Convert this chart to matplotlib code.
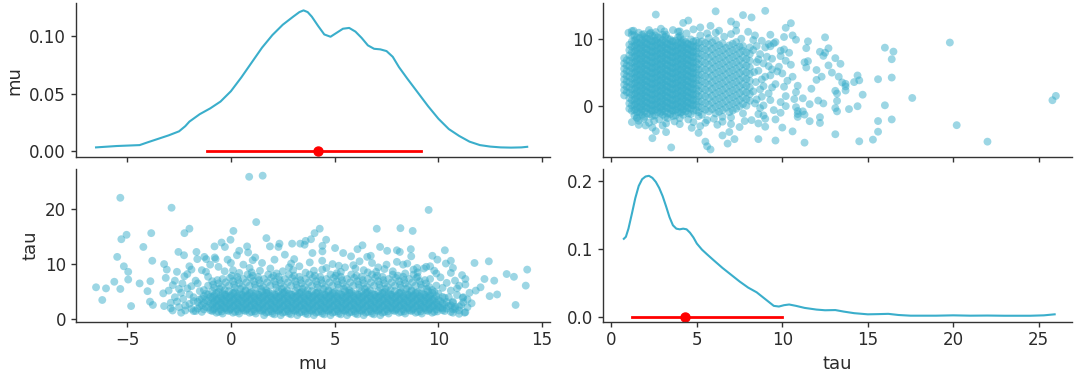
import matplotlib
matplotlib.use("Agg")
import matplotlib.pyplot as plt


line_color = "#3aaecb"
text_color = "#2b2b2b"

# marginal densities
mu_kde_x = [-6.5, -5.5, -4.4, -4.0, -3.5, -3.0, -2.5, -2.2, -2.0, -1.5, -1.0, -0.5, 0.0,
            0.5, 1.0, 1.5, 2.0, 2.5, 3.0, 3.3, 3.5, 3.7, 3.9, 4.2, 4.5, 4.8, 5.1, 5.4,
            5.7, 6.0, 6.3, 6.6, 6.9, 7.2, 7.5, 7.8, 8.1, 8.5, 9.0, 9.5, 10.0, 10.5,
            11.0, 11.5, 12.0, 12.5, 13.0, 13.5, 14.0, 14.28]
mu_kde_y = [0.003, 0.0042, 0.005, 0.0075, 0.0105, 0.0135, 0.017, 0.0215, 0.0255, 0.032,
            0.037, 0.043, 0.052, 0.064, 0.077, 0.090, 0.101, 0.110, 0.117, 0.121, 0.1225,
            0.121, 0.117, 0.109, 0.1015, 0.0995, 0.103, 0.1065, 0.1072, 0.104, 0.0985,
            0.092, 0.089, 0.0885, 0.087, 0.082, 0.073, 0.063, 0.051, 0.039, 0.028, 0.019,
            0.013, 0.008, 0.005, 0.0037, 0.003, 0.0028, 0.003, 0.0035]

tau_kde_x = [0.73, 0.85, 1.0, 1.2, 1.4, 1.6, 1.8, 2.0, 2.2, 2.4, 2.6, 2.8, 3.0, 3.2, 3.4,
             3.6, 3.8, 4.0, 4.2, 4.4, 4.6, 4.8, 5.0, 5.3, 5.6, 6.0, 6.5, 7.0, 7.5, 8.0,
             8.5, 8.8, 9.2, 9.5, 9.8, 10.1, 10.4, 10.8, 11.3, 12.0, 12.5, 13.1, 13.6,
             14.2, 15.0, 15.6, 16.2, 16.8, 17.5, 19.0, 20.0, 21.0, 22.0, 23.0, 24.5,
             25.3, 25.93]
tau_kde_y = [0.115, 0.118, 0.13, 0.152, 0.175, 0.193, 0.203, 0.207, 0.208, 0.205, 0.199,
             0.19, 0.178, 0.163, 0.147, 0.135, 0.13, 0.129, 0.13, 0.129, 0.124, 0.117,
             0.108, 0.099, 0.092, 0.083, 0.072, 0.062, 0.052, 0.043, 0.036, 0.030, 0.022,
             0.016, 0.015, 0.017, 0.018, 0.016, 0.013, 0.0105, 0.0095, 0.0098, 0.0075,
             0.0052, 0.0035, 0.0038, 0.0042, 0.0025, 0.0015, 0.0015, 0.002, 0.0015,
             0.0017, 0.0014, 0.0014, 0.002, 0.0035]

mu_hdi = [-1.17, 9.15]
mu_point = 4.2
tau_hdi = [1.23, 9.97]
tau_point = 4.32

# dense core of the draws: one tau level per row, mu values along it
core_tau = [0.75, 0.9, 1.05, 1.2, 1.35, 1.5, 1.65, 1.8, 1.95, 2.1, 2.25, 2.4, 2.55, 2.7,
            2.85, 3.0, 3.15, 3.3, 3.45, 3.6, 3.75, 3.9, 4.05, 4.2, 4.35, 4.5, 4.65, 4.8,
            4.95, 5.1, 5.3, 5.5, 5.7, 5.9, 6.1, 6.3, 6.5, 6.7, 6.9, 7.1, 7.3, 7.5, 7.7,
            7.9, 8.1,
            1.43, 1.73, 2.03, 2.33, 2.63, 2.93, 3.23, 3.53, 3.83, 4.13, 4.43, 4.73]
core_mu = [
    [1.6, 2.4, 3.2, 4.0, 4.8, 5.6, 6.4, 7.2],
    [2.1, 2.9, 3.7, 4.5, 5.3, 6.1, 6.9],
    [-0.4, 0.4, 1.2, 2.0, 2.8, 3.6, 4.4, 5.2, 6.0, 6.8, 7.6, 8.4, 9.2],
    [-0.7, 0.1, 0.9, 1.7, 2.5, 3.3, 4.1, 4.9, 5.7, 6.5, 7.3, 8.1, 8.9, 9.7],
    [-1.4, -0.6, 0.2, 1.0, 1.8, 2.6, 3.4, 4.2, 5.0, 5.8, 6.6, 7.4, 8.2, 9.0, 9.8, 10.6],
    [-1.7, -0.9, -0.1, 0.7, 1.5, 2.3, 3.1, 3.9, 4.7, 5.5, 6.3, 7.1, 7.9, 8.7, 9.5, 10.3],
    [-1.0, -0.2, 0.6, 1.4, 2.2, 3.0, 3.8, 4.6, 5.4, 6.2, 7.0, 7.8, 8.6, 9.4, 10.2],
    [-1.3, -0.5, 0.3, 1.1, 1.9, 2.7, 3.5, 4.3, 5.1, 5.9, 6.7, 7.5, 8.3, 9.1, 9.9, 10.7],
    [-1.6, -0.8, 0.0, 0.8, 1.6, 2.4, 3.2, 4.0, 4.8, 5.6, 6.4, 7.2, 8.0, 8.8, 9.6, 10.4],
    [-1.1, -0.3, 0.5, 1.3, 2.1, 2.9, 3.7, 4.5, 5.3, 6.1, 6.9, 7.7, 8.5, 9.3, 10.1],
    [-1.2, -0.4, 0.4, 1.2, 2.0, 2.8, 3.6, 4.4, 5.2, 6.0, 6.8, 7.6, 8.4, 9.2, 10.0, 10.8],
    [-1.5, -0.7, 0.1, 0.9, 1.7, 2.5, 3.3, 4.1, 4.9, 5.7, 6.5, 7.3, 8.1, 8.9, 9.7, 10.5],
    [-1.4, -0.6, 0.2, 1.0, 1.8, 2.6, 3.4, 4.2, 5.0, 5.8, 6.6, 7.4, 8.2, 9.0, 9.8, 10.6],
    [-0.9, -0.1, 0.7, 1.5, 2.3, 3.1, 3.9, 4.7, 5.5, 6.3, 7.1, 7.9, 8.7, 9.5, 10.3],
    [-1.0, -0.2, 0.6, 1.4, 2.2, 3.0, 3.8, 4.6, 5.4, 6.2, 7.0, 7.8, 8.6, 9.4, 10.2],
    [-1.3, -0.5, 0.3, 1.1, 1.9, 2.7, 3.5, 4.3, 5.1, 5.9, 6.7, 7.5, 8.3, 9.1, 9.9, 10.7],
    [-1.6, -0.8, 0.0, 0.8, 1.6, 2.4, 3.2, 4.0, 4.8, 5.6, 6.4, 7.2, 8.0, 8.8, 9.6, 10.4],
    [-1.1, -0.3, 0.5, 1.3, 2.1, 2.9, 3.7, 4.5, 5.3, 6.1, 6.9, 7.7, 8.5, 9.3, 10.1],
    [-1.2, -0.4, 0.4, 1.2, 2.0, 2.8, 3.6, 4.4, 5.2, 6.0, 6.8, 7.6, 8.4, 9.2, 10.0],
    [-1.5, -0.7, 0.1, 0.9, 1.7, 2.5, 3.3, 4.1, 4.9, 5.7, 6.5, 7.3, 8.1, 8.9, 9.7],
    [-1.4, -0.6, 0.2, 1.0, 1.8, 2.6, 3.4, 4.2, 5.0, 5.8, 6.6, 7.4, 8.2, 9.0, 9.8],
    [-0.9, -0.1, 0.7, 1.5, 2.3, 3.1, 3.9, 4.7, 5.5, 6.3, 7.1, 7.9, 8.7, 9.5, 10.3],
    [-1.0, -0.2, 0.6, 1.4, 2.2, 3.0, 3.8, 4.6, 5.4, 6.2, 7.0, 7.8, 8.6, 9.4, 10.2],
    [-1.3, -0.5, 0.3, 1.1, 1.9, 2.7, 3.5, 4.3, 5.1, 5.9, 6.7, 7.5, 8.3, 9.1, 9.9],
    [-0.8, 0.0, 0.8, 1.6, 2.4, 3.2, 4.0, 4.8, 5.6, 6.4, 7.2, 8.0, 8.8, 9.6],
    [-1.1, -0.3, 0.5, 1.3, 2.1, 2.9, 3.7, 4.5, 5.3, 6.1, 6.9, 7.7, 8.5, 9.3],
    [-1.2, -0.4, 0.4, 1.2, 2.0, 2.8, 3.6, 4.4, 5.2, 6.0, 6.8, 7.6, 8.4, 9.2, 10.0],
    [-0.7, 0.1, 0.9, 1.7, 2.5, 3.3, 4.1, 4.9, 5.7, 6.5, 7.3, 8.1, 8.9, 9.7],
    [-0.6, 0.2, 1.0, 1.8, 2.6, 3.4, 4.2, 5.0, 5.8, 6.6, 7.4, 8.2, 9.0, 9.8],
    [-0.9, -0.1, 0.7, 1.5, 2.3, 3.1, 3.9, 4.7, 5.5, 6.3, 7.1, 7.9, 8.7, 9.5],
    [-1.3, -0.3, 0.7, 1.7, 2.7, 3.7, 4.7, 5.7, 6.7, 7.7, 8.7, 9.7],
    [-0.55, 0.45, 1.45, 2.45, 3.45, 4.45, 5.45, 6.45, 7.45, 8.45, 9.45],
    [-0.8, 0.2, 1.2, 2.2, 3.2, 4.2, 5.2, 6.2, 7.2, 8.2, 9.2, 10.2],
    [-0.45, 0.55, 1.55, 2.55, 3.55, 4.55, 5.55, 6.55, 7.55, 8.55, 9.55],
    [-1.1, -0.1, 0.9, 1.9, 2.9, 3.9, 4.9, 5.9, 6.9, 7.9, 8.9, 9.9],
    [-0.85, 0.15, 1.15, 2.15, 3.15, 4.15, 5.15, 6.15, 7.15, 8.15, 9.15],
    [-0.6, 0.4, 1.4, 2.4, 3.4, 4.4, 5.4, 6.4, 7.4, 8.4, 9.4],
    [-0.25, 0.75, 1.75, 2.75, 3.75, 4.75, 5.75, 6.75, 7.75, 8.75],
    [-0.9, 0.1, 1.1, 2.1, 3.1, 4.1, 5.1, 6.1, 7.1, 8.1, 9.1],
    [-0.65, 0.35, 1.35, 2.35, 3.35, 4.35, 5.35, 6.35, 7.35, 8.35, 9.35],
    [-0.4, 0.6, 1.6, 2.6, 3.6, 4.6, 5.6, 6.6, 7.6, 8.6, 9.6],
    [-0.05, 0.95, 1.95, 2.95, 3.95, 4.95, 5.95, 6.95, 7.95, 8.95],
    [0.3, 1.3, 2.3, 3.3, 4.3, 5.3, 6.3, 7.3, 8.3, 9.0],
    [0.05, 1.05, 2.05, 3.05, 4.05, 5.05, 6.05, 7.05, 8.05],
    [0.8, 1.8, 2.8, 3.8, 4.8, 5.8, 6.8, 7.8, 8.8],
    # extra fill of the densest part
    [-0.45, 0.35, 1.15, 1.95, 2.75, 3.55, 4.35, 5.15, 5.95, 6.75, 7.55, 8.35, 9.15, 9.95],
    [-0.85, -0.05, 0.75, 1.55, 2.35, 3.15, 3.95, 4.75, 5.55, 6.35, 7.15, 7.95, 8.75, 9.55],
    [-0.25, 0.55, 1.35, 2.15, 2.95, 3.75, 4.55, 5.35, 6.15, 6.95, 7.75, 8.55, 9.35],
    [-0.65, 0.15, 0.95, 1.75, 2.55, 3.35, 4.15, 4.95, 5.75, 6.55, 7.35, 8.15, 8.95, 9.75],
    [-0.45, 0.35, 1.15, 1.95, 2.75, 3.55, 4.35, 5.15, 5.95, 6.75, 7.55, 8.35, 9.15, 9.95],
    [-0.85, -0.05, 0.75, 1.55, 2.35, 3.15, 3.95, 4.75, 5.55, 6.35, 7.15, 7.95, 8.75, 9.55],
    [-0.25, 0.55, 1.35, 2.15, 2.95, 3.75, 4.55, 5.35, 6.15, 6.95, 7.75, 8.55, 9.35],
    [-0.65, 0.15, 0.95, 1.75, 2.55, 3.35, 4.15, 4.95, 5.75, 6.55, 7.35, 8.15, 8.95, 9.75],
    [-0.45, 0.35, 1.15, 1.95, 2.75, 3.55, 4.35, 5.15, 5.95, 6.75, 7.55, 8.35, 9.15],
    [-0.85, -0.05, 0.75, 1.55, 2.35, 3.15, 3.95, 4.75, 5.55, 6.35, 7.15, 7.95, 8.75, 9.55],
    [-0.25, 0.55, 1.35, 2.15, 2.95, 3.75, 4.55, 5.35, 6.15, 6.95, 7.75, 8.55, 9.35],
    [0.15, 0.95, 1.75, 2.55, 3.35, 4.15, 4.95, 5.75, 6.55, 7.35, 8.15, 8.95],
]

# (mu, tau) draws around the edge of the core
edge_draws = [
    (-2.9, 2.0), (-2.6, 3.2), (-2.2, 2.5), (-2.0, 4.5), (-1.8, 3.3), (-2.5, 5.5),
    (-1.9, 6.0), (-2.7, 4.0), (-1.7, 7.0), (-2.1, 8.2), (-1.8, 1.5), (-2.4, 1.2),
    (-2.3, 3.7), (-1.5, 5.1), (-2.8, 6.2), (-1.4, 8.9), (-2.0, 9.6),
    (-1.9, 1.9), (-2.2, 1.6), (-2.0, 2.8), (-2.5, 2.2), (-1.8, 4.0), (-2.4, 4.8),
    (-2.9, 3.0), (-2.1, 5.6), (-2.7, 7.0), (-1.6, 6.5), (-3.0, 5.2), (-1.1, 7.7),
    (10.8, 1.9), (11.1, 2.6), (11.3, 1.3), (10.7, 3.2), (11.4, 3.6), (10.9, 4.4),
    (10.6, 5.2), (10.2, 2.0), (10.7, 1.2), (10.4, 6.6), (10.1, 7.6), (9.9, 8.3),
    (11.0, 1.0), (11.2, 3.1), (10.5, 4.0),
    (11.0, 1.6), (11.4, 2.2), (11.6, 2.9), (11.2, 4.0), (11.5, 4.8), (10.9, 5.6),
    (11.3, 6.3), (10.8, 7.0), (11.8, 5.2), (11.0, 2.3), (11.3, 7.3),
    (-1.2, 8.6), (0.1, 8.9), (1.0, 8.5), (1.9, 9.2), (2.5, 8.7), (3.3, 9.6), (4.0, 8.8),
    (4.6, 9.3), (5.3, 8.6), (5.9, 9.8), (6.4, 8.9), (7.1, 9.4), (7.8, 8.7), (8.3, 9.9),
    (9.0, 8.5), (9.8, 8.8), (-0.6, 9.5), (0.6, 9.9), (1.5, 10.2), (2.9, 10.1),
    (3.8, 10.3), (4.9, 10.0), (5.5, 9.4), (6.8, 10.2), (7.5, 9.9), (8.0, 10.4), (9.6, 9.6),
    (0.4, 8.4), (2.2, 8.3), (3.6, 8.45), (5.1, 8.35), (6.6, 8.5), (8.4, 8.3), (1.4, 8.8),
    (4.4, 9.0), (7.4, 9.1), (2.8, 9.4), (6.0, 9.2), (8.8, 9.0), (-0.3, 8.7), (5.2, 9.7),
    (3.0, 8.9), (7.0, 8.6), (0.9, 9.3), (9.3, 9.2), (6.2, 10.5), (2.1, 10.8), (4.4, 10.6),
    (8.5, 10.1), (0.0, 10.2), (-1.0, 9.9), (10.7, 9.3), (10.6, 8.4), (-1.9, 9.0),
    (-2.6, 8.6),
]

# (mu, tau) scattered draws far from the core
tail_draws = [
    (0.88, 25.8), (1.53, 26.0), (-5.33, 22.0), (-2.86, 20.2), (9.53, 19.8), (1.22, 17.6),
    (-5.28, 14.5), (-5.03, 15.3), (-3.84, 15.6), (-2.24, 15.6), (-2.0, 16.4), (0.12, 16.0),
    (-0.02, 14.4), (-0.45, 13.9), (1.71, 14.7), (2.34, 13.7), (4.03, 15.6), (4.28, 16.4),
    (3.6, 14.2), (3.86, 14.5), (3.34, 13.7), (4.59, 14.4), (7.03, 16.4), (8.17, 16.5),
    (8.76, 16.0), (2.95, 13.7), (-5.48, 11.3), (-5.16, 9.6), (-4.95, 8.6), (-4.22, 13.1),
    (-3.79, 10.6), (-4.95, 7.2), (-5.62, 6.8), (-5.33, 5.5), (-6.5, 5.8), (-6.02, 5.6),
    (-6.2, 3.5), (-4.81, 2.4), (-4.4, 6.5), (-4.02, 5.1), (-3.88, 6.9), (-3.9, 3.2),
    (-3.76, 2.6), (-3.22, 10.0), (-3.09, 9.0), (-3.14, 7.5), (-3.26, 4.7), (-3.22, 2.4),
    (-2.81, 1.6), (-2.53, 12.2), (-2.26, 11.6), (-2.24, 7.8), (-2.34, 6.5), (-1.66, 12.2),
    (-1.62, 10.9), (-1.28, 11.3), (-1.19, 10.9), (-0.78, 11.2), (-0.74, 10.9), (-0.79, 13.2),
    (-0.29, 13.1), (-0.16, 10.8), (0.29, 11.6), (0.4, 12.4), (0.78, 13.2), (0.83, 12.1),
    (1.05, 10.7), (1.17, 11.2), (1.88, 13.2), (2.29, 13.1), (2.6, 11.7), (3.05, 10.9),
    (3.55, 13.5), (3.93, 12.0), (4.41, 12.3), (4.41, 13.3), (5.02, 12.9), (5.41, 12.0),
    (5.79, 11.4), (6.1, 12.7), (6.34, 13.4), (6.57, 11.3), (6.74, 11.5), (7.19, 13.1),
    (7.53, 12.4), (8.0, 12.5), (8.14, 12.2), (8.67, 12.7), (9.71, 11.5), (10.31, 12.5),
    (9.95, 10.8), (10.36, 10.1), (10.6, 10.6), (11.74, 10.2), (12.43, 10.5), (11.14, 8.0),
    (12.22, 7.3), (12.69, 7.0), (13.29, 8.2), (13.64, 7.7), (14.28, 9.0), (12.03, 5.8),
    (12.47, 4.2), (12.83, 4.5), (13.72, 2.6), (14.21, 6.1), (11.0, 6.1), (11.17, 3.9),
    (11.26, 1.2), (9.41, 9.5), (8.97, 9.3), (8.69, 11.4),
]


def collect_draws():
    mu, tau = [], []
    for t, row in zip(core_tau, core_mu):
        for m in row:
            mu.append(m)
            tau.append(t)
    for m, t in edge_draws + tail_draws:
        mu.append(m)
        tau.append(t)
    return mu, tau


def style_axes(ax):
    for side in ["top", "right"]:
        ax.spines[side].set_visible(False)
    for side in ["left", "bottom"]:
        ax.spines[side].set_color("#333333")
        ax.spines[side].set_linewidth(1.0)
    ax.tick_params(labelsize=12, colors="#333333", labelcolor=text_color,
                   length=3.5, width=1.0)


def main():
    mu, tau = collect_draws()

    fig = plt.figure(figsize=(10.8, 3.76), dpi=100)
    ax_mu = fig.add_axes([0.0701, 0.583, 0.439, 0.408])
    ax_tau_mu = fig.add_axes([0.0701, 0.1444, 0.439, 0.406], sharex=ax_mu)
    ax_mu_tau = fig.add_axes([0.558, 0.583, 0.435, 0.408])
    ax_tau = fig.add_axes([0.558, 0.1444, 0.435, 0.406], sharex=ax_mu_tau)

    # diagonal: densities with point estimate and hdi
    ax_mu.plot(mu_kde_x, mu_kde_y, color=line_color, lw=1.5)
    ax_mu.plot(mu_hdi, [0, 0], color="red", lw=2)
    ax_mu.plot([mu_point], [0], "o", color="red", ms=6.5)

    ax_tau.plot(tau_kde_x, tau_kde_y, color=line_color, lw=1.5)
    ax_tau.plot(tau_hdi, [0, 0], color="red", lw=2)
    ax_tau.plot([tau_point], [0], "o", color="red", ms=6.5)

    # off diagonal: scatter of draws
    ax_mu_tau.scatter(tau, mu, s=32, color=line_color, alpha=0.5, edgecolors="none")
    ax_tau_mu.scatter(mu, tau, s=32, color=line_color, alpha=0.5, edgecolors="none")

    ax_mu.set_xlim(-7.48, 15.37)
    ax_mu.set_ylim(-0.0052, 0.1286)
    ax_mu.set_yticks([0, 0.05, 0.10])
    ax_mu.set_xticks([-5, 0, 5, 10, 15])

    ax_tau_mu.set_ylim(-0.43, 27.2)
    ax_tau_mu.set_yticks([0, 10, 20])

    ax_mu_tau.set_xlim(-0.51, 26.97)
    ax_mu_tau.set_ylim(-7.6, 15.4)
    ax_mu_tau.set_yticks([0, 10])
    ax_mu_tau.set_xticks([0, 5, 10, 15, 20, 25])

    ax_tau.set_ylim(-0.0074, 0.218)
    ax_tau.set_yticks([0, 0.1, 0.2])

    for ax in [ax_mu, ax_tau_mu, ax_mu_tau, ax_tau]:
        style_axes(ax)
    ax_mu.tick_params(labelbottom=False)
    ax_mu_tau.tick_params(labelbottom=False)

    ax_mu.set_ylabel("mu", fontsize=13, color=text_color)
    ax_tau_mu.set_ylabel("tau", fontsize=13, color=text_color)
    ax_tau_mu.set_xlabel("mu", fontsize=13, color=text_color)
    ax_tau.set_xlabel("tau", fontsize=13, color=text_color)

    fig.savefig("out.png", dpi=100)


if __name__ == "__main__":
    main()
